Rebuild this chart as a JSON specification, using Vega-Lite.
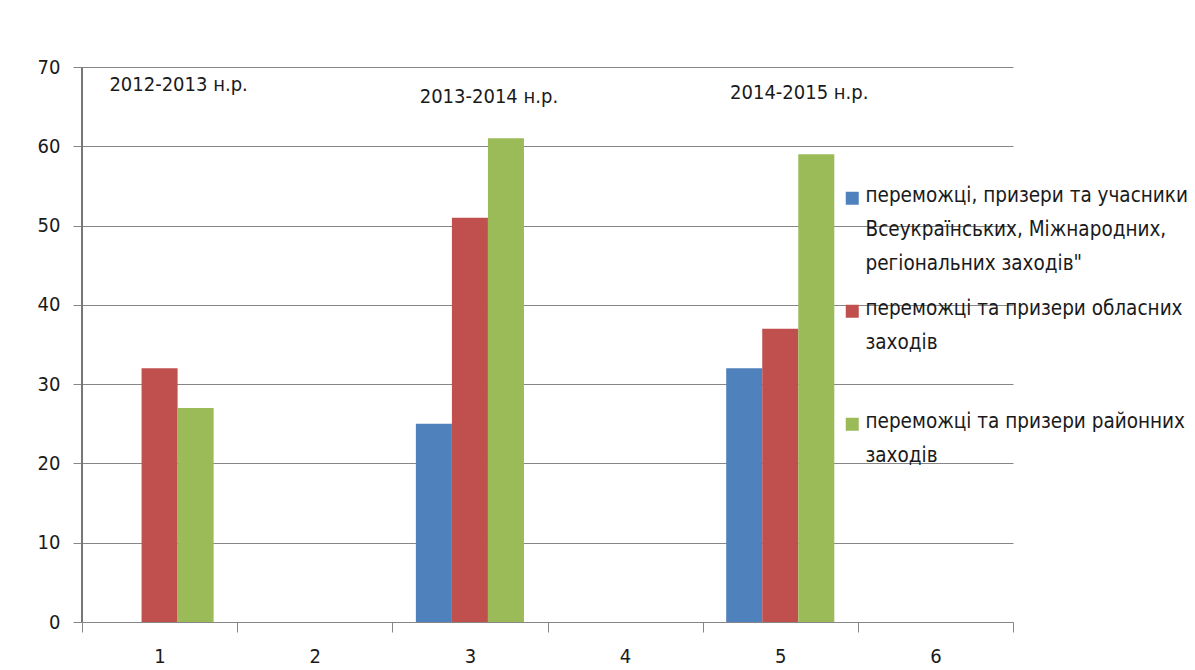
{
  "$schema": "https://vega.github.io/schema/vega-lite/v6.json",
  "autosize": "none",
  "width": 931,
  "height": 555,
  "padding": {"left": 82, "top": 67, "right": 182, "bottom": 48},
  "background": "white",
  "datasets": {
    "bars": [
      {"c": "1", "series": "переможці, призери та учасники Всеукраїнських, Міжнародних, регіональних заходів\"", "value": 0},
      {"c": "1", "series": "переможці та призери обласних заходів", "value": 32},
      {"c": "1", "series": "переможці та призери районних заходів", "value": 27},
      {"c": "3", "series": "переможці, призери та учасники Всеукраїнських, Міжнародних, регіональних заходів\"", "value": 25},
      {"c": "3", "series": "переможці та призери обласних заходів", "value": 51},
      {"c": "3", "series": "переможці та призери районних заходів", "value": 61},
      {"c": "5", "series": "переможці, призери та учасники Всеукраїнських, Міжнародних, регіональних заходів\"", "value": 32},
      {"c": "5", "series": "переможці та призери обласних заходів", "value": 37},
      {"c": "5", "series": "переможці та призери районних заходів", "value": 59}
    ],
    "ann": [
      {"c": "1", "y": 67.7, "label": "2012-2013 н.р."},
      {"c": "3", "y": 66.2, "label": "2013-2014 н.р."},
      {"c": "5", "y": 66.7, "label": "2014-2015 н.р."}
    ],
    "axisline": [
      {"c": "1", "y0": 0, "y1": 70}
    ]
  },
  "layer": [
    {
      "data": {"name": "bars"},
      "mark": {"type": "bar"},
      "encoding": {
        "x": {
          "field": "c", "type": "nominal",
          "scale": {"domain": ["1", "2", "3", "4", "5", "6"], "paddingInner": 0, "paddingOuter": 0},
          "axis": {
            "title": null, "labelAngle": 0, "tickBand": "extent",
            "domainColor": "#868686", "tickColor": "#868686", "tickSize": 10,
            "labelPadding": 26, "labelFontSize": 20, "labelColor": "#1a1a1a",
            "labelFont": "Liberation Sans Narrow, DejaVu Sans Condensed, sans-serif"
          }
        },
        "xOffset": {
          "field": "series", "type": "nominal",
          "scale": {"domain": [
            "переможці, призери та учасники Всеукраїнських, Міжнародних, регіональних заходів\"",
            "переможці та призери обласних заходів",
            "переможці та призери районних заходів"
          ], "paddingInner": 0, "paddingOuter": 0.653}
        },
        "y": {
          "field": "value", "type": "quantitative",
          "scale": {"domain": [0, 70], "nice": false},
          "axis": {
            "title": null, "values": [0, 10, 20, 30, 40, 50, 60, 70],
            "domain": true, "ticks": true, "domainWidth": 1, "tickWidth": 1,
            "gridColor": "#868686", "gridWidth": 1,
            "domainColor": "#868686", "tickColor": "#868686", "tickSize": 9,
            "labelPadding": 13, "labelOffset": 12, "labelFontSize": 20, "labelColor": "#1a1a1a",
            "labelFont": "Liberation Sans Narrow, DejaVu Sans Condensed, sans-serif"
          }
        },
        "color": {
          "field": "series", "type": "nominal",
          "scale": {
            "domain": [
              "переможці, призери та учасники Всеукраїнських, Міжнародних, регіональних заходів\"",
              "переможці та призери обласних заходів",
              "переможці та призери районних заходів"
            ],
            "range": ["#4F81BD", "#C0504D", "#9BBB59"]
          },
          "legend": {
            "title": null,
            "orient": "none",
            "legendX": 760,
            "legendY": 121,
            "padding": 0,
            "symbolType": "square",
            "symbolSize": 169,
            "symbolStrokeWidth": 0,
            "labelFontSize": 20.5,
            "labelColor": "#1a1a1a",
            "labelFont": "Liberation Sans Narrow, DejaVu Sans Condensed, sans-serif",
            "labelLimit": 500,
            "labelOffset": 3,
            "labelBaseline": "top",
            "rowPadding": 24,
            "labelExpr": "datum.label == 'переможці та призери обласних заходів' ? ['переможці та призери обласних', 'заходів', ''] : datum.label == 'переможці та призери районних заходів' ? ['переможці та призери районних', 'заходів', ''] : ['переможці, призери та учасники', 'Всеукраїнських, Міжнародних,', 'регіональних заходів\"']"
          }
        }
      }
    },
    {
      "data": {"name": "axisline"},
      "mark": {"type": "rule", "color": "#777777", "strokeWidth": 2},
      "encoding": {
        "x": {"field": "c", "type": "nominal", "bandPosition": 0},
        "y": {"field": "y0", "type": "quantitative"},
        "y2": {"field": "y1"}
      }
    },
    {
      "data": {"name": "ann"},
      "mark": {"type": "text", "dx": 19, "fontSize": 20, "color": "#1a1a1a", "font": "Liberation Sans Narrow, DejaVu Sans Condensed, sans-serif"},
      "encoding": {
        "x": {"field": "c", "type": "nominal"},
        "y": {"field": "y", "type": "quantitative"},
        "text": {"field": "label"}
      }
    }
  ],
  "config": {
    "view": {"stroke": null},
    "axisY": {"domain": true, "ticks": true},
    "style": {"guide-label": {"lineHeight": 34, "dy": -12}}
  }
}
